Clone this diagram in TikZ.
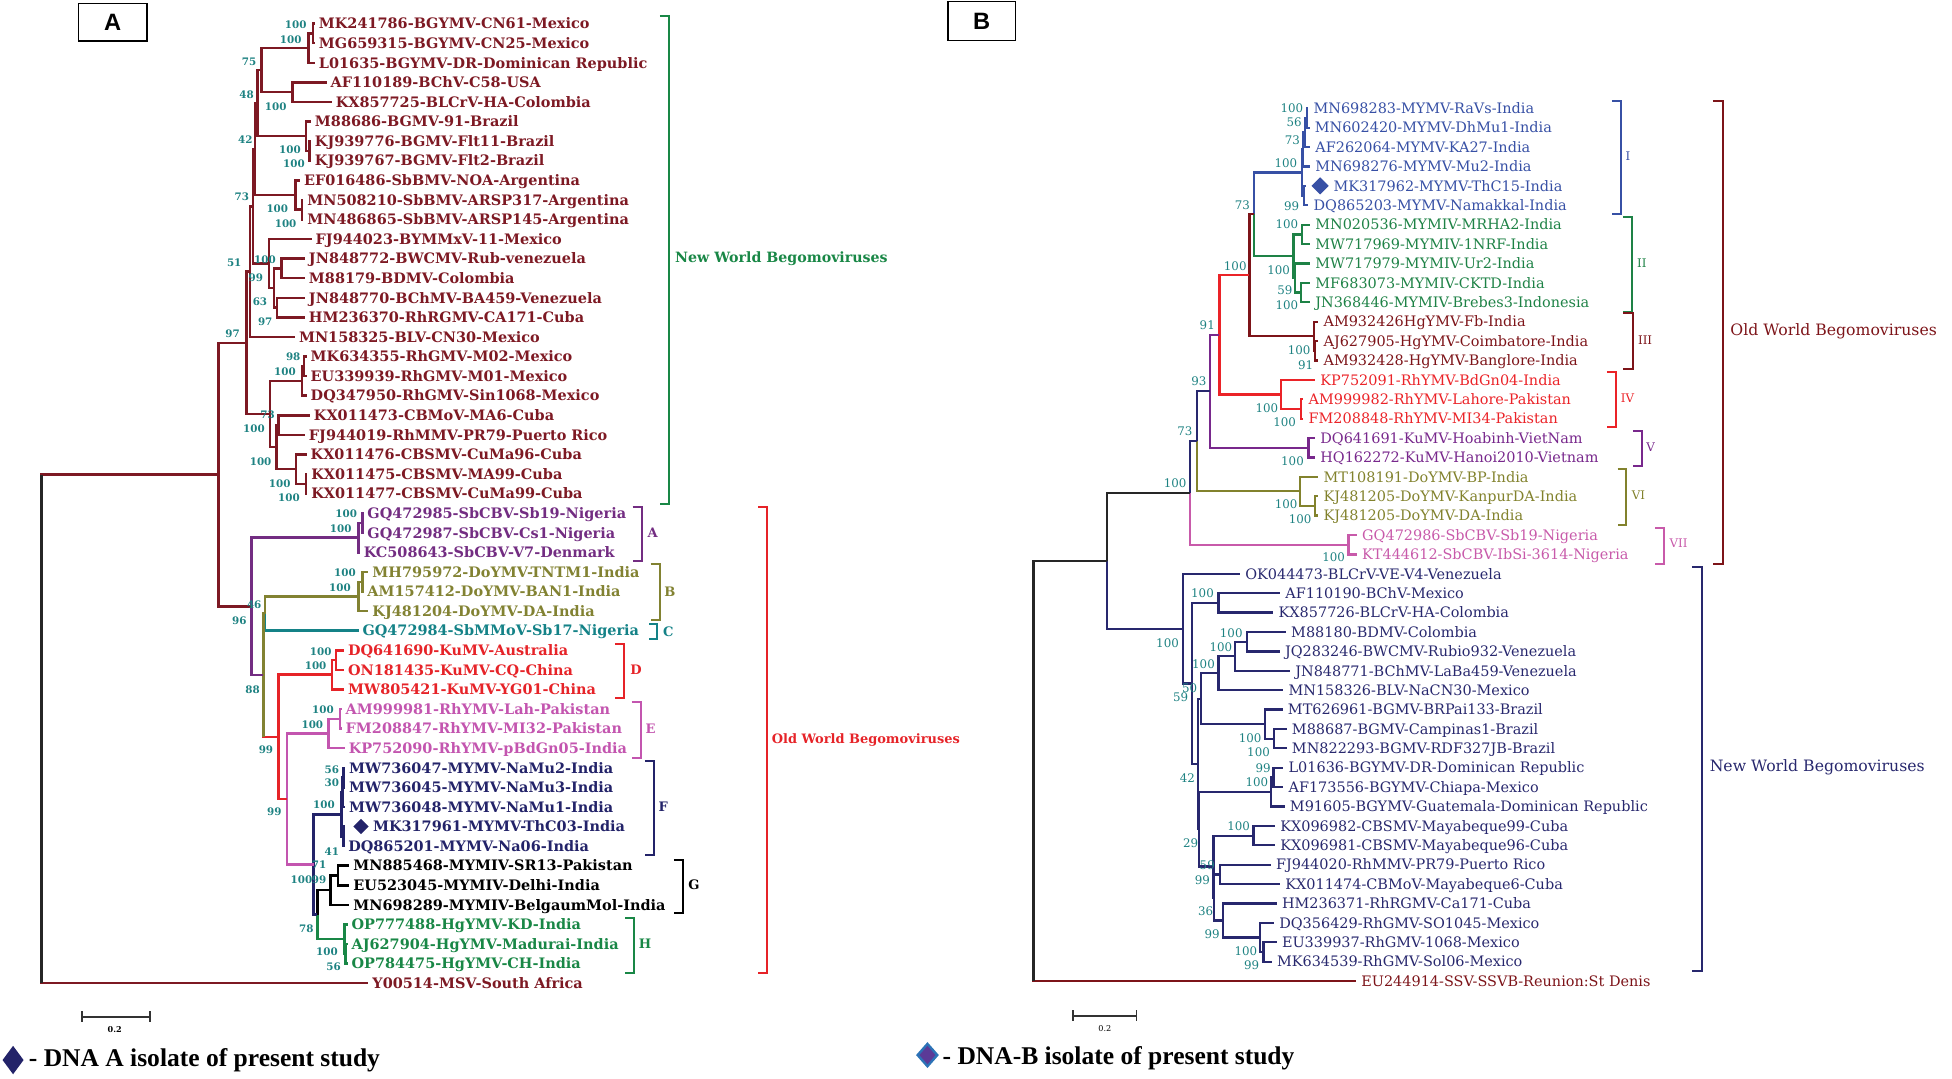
\documentclass[tikz,border=0pt]{standalone}
\usepackage{fontspec}
\newfontfamily\treefont{DejaVu Serif}
\newfontfamily\legfont{Liberation Serif}
\newfontfamily\boxfont{Liberation Sans}
\usetikzlibrary{shapes.geometric}

\definecolor{nwA}{RGB}{125,25,35}
\definecolor{purA}{RGB}{115,45,130}
\definecolor{olvA}{RGB}{130,130,50}
\definecolor{tealA}{RGB}{20,130,135}
\definecolor{redA}{RGB}{230,35,40}
\definecolor{pinkA}{RGB}{195,85,175}
\definecolor{navyA}{RGB}{35,35,105}
\definecolor{grnA}{RGB}{25,135,70}
\definecolor{boot}{RGB}{30,130,130}
\definecolor{blueB}{RGB}{55,80,165}
\definecolor{grnB}{RGB}{30,130,70}
\definecolor{dredB}{RGB}{125,20,25}
\definecolor{redB}{RGB}{235,35,40}
\definecolor{purB}{RGB}{120,40,140}
\definecolor{olvB}{RGB}{130,130,45}
\definecolor{pinkB}{RGB}{200,90,170}
\definecolor{navyB}{RGB}{40,40,110}

\tikzset{
  lfA/.style={anchor=west, inner xsep=3pt, inner ysep=0pt, text height=8.4pt, text depth=0pt, font=\treefont\bfseries\fontsize{11.6}{12}\selectfont},
  lfB/.style={anchor=west, inner xsep=4pt, inner ysep=0pt, text height=8.4pt, text depth=0pt, font=\treefont\fontsize{11.6}{12}\selectfont},
  bsA/.style={anchor=east, inner sep=0pt, text=boot, font=\treefont\bfseries\fontsize{8.3}{9}\selectfont},
  bsB/.style={anchor=east, inner sep=0pt, text=boot, font=\treefont\fontsize{9.5}{10}\selectfont},
  br/.style={line width=2pt, to path={|- (\tikztotarget)}},
  brB/.style={line width=1.8pt, to path={|- (\tikztotarget)}},
  brk/.style={line width=1.6pt},
  grpA/.style={inner sep=0pt, font=\treefont\bfseries\fontsize{10.5}{11}\selectfont},
  grpB/.style={inner sep=0pt, font=\treefont\fontsize{9.5}{10}\selectfont},
  isomark/.style={shape=diamond, inner sep=0pt, aspect=1}
}

\begin{document}
\begin{tikzpicture}[x=1pt, y=-1pt]
\useasboundingbox (0,0) rectangle (1568,866.7);

% panel boxes
\node[draw, line width=1pt, minimum width=55pt, minimum height=30pt, font=\boxfont\bfseries\fontsize{19}{20}\selectfont] (boxA) at (90.5,18) {A};
\node[draw, line width=1pt, minimum width=54pt, minimum height=31pt, font=\boxfont\bfseries\fontsize{19}{20}\selectfont] (boxB) at (788.5,17) {B};

% ---------- panel A : leaves ----------
\node[lfA,text=nwA] (a1) at (253,19) {MK241786-BGYMV-CN61-Mexico};
\node[lfA,text=nwA] (a2) at (253,34.73) {MG659315-BGYMV-CN25-Mexico};
\node[lfA,text=nwA] (a3) at (253,50.46) {L01635-BGYMV-DR-Dominican Republic};
\node[lfA,text=nwA] (a4) at (262.4,66.19) {AF110189-BChV-C58-USA};
\node[lfA,text=nwA] (a5) at (266.5,81.92) {KX857725-BLCrV-HA-Colombia};
\node[lfA,text=nwA] (a6) at (249.8,97.65) {M88686-BGMV-91-Brazil};
\node[lfA,text=nwA] (a7) at (249.8,113.38) {KJ939776-BGMV-Flt11-Brazil};
\node[lfA,text=nwA] (a8) at (249.8,129.11) {KJ939767-BGMV-Flt2-Brazil};
\node[lfA,text=nwA] (a9) at (241,144.84) {EF016486-SbBMV-NOA-Argentina};
\node[lfA,text=nwA] (a10) at (243.7,160.57) {MN508210-SbBMV-ARSP317-Argentina};
\node[lfA,text=nwA] (a11) at (243.7,176.3) {MN486865-SbBMV-ARSP145-Argentina};
\node[lfA,text=nwA] (a12) at (250.4,192.03) {FJ944023-BYMMxV-11-Mexico};
\node[lfA,text=nwA] (a13) at (245,207.76) {JN848772-BWCMV-Rub-venezuela};
\node[lfA,text=nwA] (a14) at (245,223.49) {M88179-BDMV-Colombia};
\node[lfA,text=nwA] (a15) at (245,239.22) {JN848770-BChMV-BA459-Venezuela};
\node[lfA,text=nwA] (a16) at (245,254.95) {HM236370-RhRGMV-CA171-Cuba};
\node[lfA,text=nwA] (a17) at (237,270.68) {MN158325-BLV-CN30-Mexico};
\node[lfA,text=nwA] (a18) at (246.4,286.41) {MK634355-RhGMV-M02-Mexico};
\node[lfA,text=nwA] (a19) at (246.4,302.14) {EU339939-RhGMV-M01-Mexico};
\node[lfA,text=nwA] (a20) at (246.4,317.87) {DQ347950-RhGMV-Sin1068-Mexico};
\node[lfA,text=nwA] (a21) at (249,333.6) {KX011473-CBMoV-MA6-Cuba};
\node[lfA,text=nwA] (a22) at (245,349.33) {FJ944019-RhMMV-PR79-Puerto Rico};
\node[lfA,text=nwA] (a23) at (246.4,365.06) {KX011476-CBSMV-CuMa96-Cuba};
\node[lfA,text=nwA] (a24) at (246.9,380.79) {KX011475-CBSMV-MA99-Cuba};
\node[lfA,text=nwA] (a25) at (246.9,396.52) {KX011477-CBSMV-CuMa99-Cuba};
\node[lfA,text=purA] (a26) at (292,412.25) {GQ472985-SbCBV-Sb19-Nigeria};
\node[lfA,text=purA] (a27) at (292,427.98) {GQ472987-SbCBV-Cs1-Nigeria};
\node[lfA,text=purA] (a28) at (289,443.71) {KC508643-SbCBV-V7-Denmark};
\node[lfA,text=olvA] (a29) at (296,459.44) {MH795972-DoYMV-TNTM1-India};
\node[lfA,text=olvA] (a30) at (292,475.17) {AM157412-DoYMV-BAN1-India};
\node[lfA,text=olvA] (a31) at (296,490.9) {KJ481204-DoYMV-DA-India};
\node[lfA,text=tealA] (a32) at (288,506.63) {GQ472984-SbMMoV-Sb17-Nigeria};
\node[lfA,text=redA] (a33) at (276.4,522.36) {DQ641690-KuMV-Australia};
\node[lfA,text=redA] (a34) at (276.4,538.09) {ON181435-KuMV-CQ-China};
\node[lfA,text=redA] (a35) at (276.4,553.82) {MW805421-KuMV-YG01-China};
\node[lfA,text=pinkA] (a36) at (274.5,569.55) {AM999981-RhYMV-Lah-Pakistan};
\node[lfA,text=pinkA] (a37) at (274.5,585.28) {FM208847-RhYMV-MI32-Pakistan};
\node[lfA,text=pinkA] (a38) at (277,601.01) {KP752090-RhYMV-pBdGn05-India};
\node[lfA,text=navyA] (a39) at (277.2,616.74) {MW736047-MYMV-NaMu2-India};
\node[lfA,text=navyA] (a40) at (277.2,632.47) {MW736045-MYMV-NaMu3-India};
\node[lfA,text=navyA] (a41) at (277.2,648.2) {MW736048-MYMV-NaMu1-India};
\coordinate (t42) at (277.5,663.93);
\node[isomark, fill=navyA, minimum width=12.5pt, minimum height=12.5pt] (dA) at (290,663.93) {};
\node[lfA,text=navyA] (a42) at (296.5,663.93) {MK317961-MYMV-ThC03-India};
\node[lfA,text=navyA] (a43) at (276.6,679.66) {DQ865201-MYMV-Na06-India};
\node[lfA,text=black] (a44) at (280.7,695.39) {MN885468-MYMIV-SR13-Pakistan};
\node[lfA,text=black] (a45) at (280.7,711.12) {EU523045-MYMIV-Delhi-India};
\node[lfA,text=black] (a46) at (280.7,726.85) {MN698289-MYMIV-BelgaumMol-India};
\node[lfA,text=grnA] (a47) at (279.2,742.58) {OP777488-HgYMV-KD-India};
\node[lfA,text=grnA] (a48) at (279.2,758.31) {AJ627904-HgYMV-Madurai-India};
\node[lfA,text=grnA] (a49) at (279.2,774.04) {OP784475-HgYMV-CH-India};
\node[lfA,text=nwA] (a50) at (296,789.77) {Y00514-MSV-South Africa};

% panel A : internal nodes
\coordinate (n12) at (251.5,26.9);
\coordinate (n123) at (247.7,38.7);
\coordinate (n45) at (235,74.05);
\coordinate (n75) at (210.2,56.4);
\coordinate (n78) at (248.5,121.25);
\coordinate (n678) at (245.8,109.45);
\coordinate (n48) at (206.7,82.9);
\coordinate (n1011) at (242.4,168.45);
\coordinate (n911) at (237.5,156.6);
\coordinate (n42) at (204.9,119.75);
\coordinate (n1314) at (226,215.6);
\coordinate (n1516) at (222.5,247.1);
\coordinate (nb) at (220,231.35);
\coordinate (na) at (216,211.7);
\coordinate (n73) at (203.3,165.7);
\coordinate (n51) at (200.8,218.2);
\coordinate (n1819) at (244.2,294.3);
\coordinate (n1820) at (242.4,306.1);
\coordinate (n2122) at (223.6,341.5);
\coordinate (n2425) at (245.6,388.65);
\coordinate (n2325) at (237.8,376.85);
\coordinate (n2125) at (222.3,359.2);
\coordinate (n1825) at (216.9,332.65);
\coordinate (nNW) at (198.2,275.4);
\coordinate (n2627) at (291.1,420.1);
\coordinate (n2628) at (287.9,431.9);
\coordinate (n2930) at (291.1,467.3);
\coordinate (n2931) at (287.9,479.1);
\coordinate (nBC) at (212.9,492.9);
\coordinate (n3334) at (269.9,530.2);
\coordinate (nD) at (266.5,542);
\coordinate (n3637) at (273.2,577.4);
\coordinate (nE) at (263.8,589.2);
\coordinate (n3940) at (276,624.6);
\coordinate (n3941) at (275.3,636.4);
\coordinate (n4243) at (276,671.8);
\coordinate (nF) at (274.5,654.1);
\coordinate (nG12) at (271.5,703.25);
\coordinate (nG) at (265.4,715.05);
\coordinate (n4849) at (277.5,766.2);
\coordinate (nH) at (276.6,754.4);
\coordinate (nGH) at (255,734.7);
\coordinate (nFGH) at (252,694.4);
\coordinate (nEH) at (230.4,641.8);
\coordinate (nDH) at (223.6,591.9);
\coordinate (n88) at (211.5,542.4);
\coordinate (nOW) at (202.2,487.15);
\coordinate (ntop) at (175.4,381.3);
\coordinate (nrootA) at (33.3,585.5);

% panel A : branches
\path[br, draw=nwA] (n12) edge (a1) edge (a2);
\path[br, draw=nwA] (n123) edge (n12) edge (a3);
\path[br, draw=nwA] (n45) edge (a4) edge (a5);
\path[br, draw=nwA] (n75) edge (n123) edge (n45);
\path[br, draw=nwA] (n78) edge (a7) edge (a8);
\path[br, draw=nwA] (n678) edge (a6) edge (n78);
\path[br, draw=nwA] (n48) edge (n75) edge (n678);
\path[br, draw=nwA] (n1011) edge (a10) edge (a11);
\path[br, draw=nwA] (n911) edge (a9) edge (n1011);
\path[br, draw=nwA] (n42) edge (n48) edge (n911);
\path[br, draw=nwA] (n1314) edge (a13) edge (a14);
\path[br, draw=nwA] (n1516) edge (a15) edge (a16);
\path[br, draw=nwA] (nb) edge (n1314) edge (n1516);
\path[br, draw=nwA] (na) edge (a12) edge (nb);
\path[br, draw=nwA] (n73) edge (n42) edge (na);
\path[br, draw=nwA] (n51) edge (n73) edge (a17);
\path[br, draw=nwA] (n1819) edge (a18) edge (a19);
\path[br, draw=nwA] (n1820) edge (n1819) edge (a20);
\path[br, draw=nwA] (n2122) edge (a21) edge (a22);
\path[br, draw=nwA] (n2425) edge (a24) edge (a25);
\path[br, draw=nwA] (n2325) edge (a23) edge (n2425);
\path[br, draw=nwA] (n2125) edge (n2122) edge (n2325);
\path[br, draw=nwA] (n1825) edge (n1820) edge (n2125);
\path[br, draw=nwA] (nNW) edge (n51) edge (n1825);
\path[br, draw=purA] (n2627) edge (a26) edge (a27);
\path[br, draw=purA] (n2628) edge (n2627) edge (a28);
\path[br, draw=olvA] (n2930) edge (a29) edge (a30);
\path[br, draw=olvA] (n2931) edge (n2930) edge (a31);
\path[br, draw=olvA] (nBC) edge (n2931);
\path[br, draw=tealA] (nBC) edge (a32);
\path[br, draw=redA] (n3334) edge (a33) edge (a34);
\path[br, draw=redA] (nD) edge (n3334) edge (a35);
\path[br, draw=pinkA] (n3637) edge (a36) edge (a37);
\path[br, draw=pinkA] (nE) edge (n3637) edge (a38);
\path[br, draw=navyA] (n3940) edge (a39) edge (a40);
\path[br, draw=navyA] (n3941) edge (n3940) edge (a41);
\path[br, draw=navyA] (n4243) edge (t42) edge (a43);
\path[br, draw=navyA] (nF) edge (n3941) edge (n4243);
\path[br, draw=black] (nG12) edge (a44) edge (a45);
\path[br, draw=black] (nG) edge (nG12) edge (a46);
\path[br, draw=grnA] (n4849) edge (a48) edge (a49);
\path[br, draw=grnA] (nH) edge (a47) edge (n4849);
\path[br, draw=black] (nGH) edge (nG);
\path[br, draw=grnA] (nGH) edge (nH);
\path[br, draw=navyA] (nFGH) edge (nF) edge (nGH);
\path[br, draw=pinkA] (nEH) edge (nE) edge (nFGH);
\path[br, draw=redA] (nDH) edge (nD) edge (nEH);
\path[br, draw=olvA] (n88) edge (nBC);
\path[br, draw=redA] (n88) edge (nDH);
\draw[line width=2pt, olvA] (n88) -- (n88 |- nDH);
\path[br, draw=purA] (nOW) edge (n2628) edge (n88);
\path[br, draw=nwA] (ntop) edge (nNW) edge (nOW);
\path[br, draw=nwA] (nrootA) edge (ntop) edge (a50);
\draw[line width=2pt, black!85] (nrootA |- ntop) -- (nrootA |- a50);

% panel A : bootstrap values
\node[bsA] (bA1) at (246.4,20) {100};
\node[bsA] (bA2) at (242.4,31.6) {100};
\node[bsA] (bA3) at (206,49.5) {75};
\node[bsA] (bA4) at (204,76.3) {48};
\node[bsA] (bA5) at (230.3,85.7) {100};
\node[bsA] (bA6) at (203,112.5) {42};
\node[bsA] (bA7) at (241.8,120.5) {100};
\node[bsA] (bA8) at (245,131.8) {100};
\node[bsA] (bA9) at (200.3,158) {73};
\node[bsA] (bA10) at (231.6,167.4) {100};
\node[bsA] (bA11) at (238.3,179.4) {100};
\node[bsA] (bA12) at (221.7,208.4) {100};
\node[bsA] (bA13) at (194.1,211) {51};
\node[bsA] (bA14) at (211.5,222.8) {99};
\node[bsA] (bA15) at (214.8,242.4) {63};
\node[bsA] (bA16) at (219,258.5) {97};
\node[bsA] (bA17) at (192.8,267.8) {97};
\node[bsA] (bA18) at (241.5,286.6) {98};
\node[bsA] (bA19) at (237.8,298.6) {100};
\node[bsA] (bA20) at (220.9,333.4) {73};
\node[bsA] (bA21) at (212.9,344.1) {100};
\node[bsA] (bA22) at (218.2,370.8) {100};
\node[bsA] (bA23) at (233.5,388.3) {100};
\node[bsA] (bA24) at (241,399.8) {100};
\node[bsA] (bA25) at (287,412.4) {100};
\node[bsA] (bA26) at (282.5,424.4) {100};
\node[bsA] (bA27) at (286,460) {100};
\node[bsA] (bA28) at (282,471.8) {100};
\node[bsA] (bA29) at (210.2,486) {46};
\node[bsA] (bA30) at (198.2,498.6) {96};
\node[bsA] (bA31) at (266.5,523.5) {100};
\node[bsA] (bA32) at (262.4,535) {100};
\node[bsA] (bA33) at (208.9,554.3) {88};
\node[bsA] (bA34) at (268.3,569.8) {100};
\node[bsA] (bA35) at (259.8,581.9) {100};
\node[bsA] (bA36) at (219.6,602.5) {99};
\node[bsA] (bA37) at (272.6,618) {56};
\node[bsA] (bA38) at (272.6,628.8) {30};
\node[bsA] (bA39) at (269.1,646.7) {100};
\node[bsA] (bA40) at (226.3,652) {99};
\node[bsA] (bA41) at (272.5,684.1) {41};
\node[bsA] (bA42) at (262.3,694.9) {71};
\node[bsA] (bA43) at (251,707) {100};
\node[bsA] (bA44) at (262.3,707) {99};
\node[bsA] (bA45) at (252,745.7) {78};
\node[bsA] (bA46) at (271.5,764.5) {100};
\node[bsA] (bA47) at (274,776.5) {56};

% panel A : clade brackets
\draw[brk, grnA] (530.1,12.8) -- (537.6,12.8) -- (537.6,404.7) -- (530.1,404.7);
\node[grpA, anchor=west, text=grnA, font=\treefont\bfseries\fontsize{11.4}{12}\selectfont] (lNWA) at (542.2,207.5) {New World Begomoviruses};
\draw[brk, redA] (609.1,407.3) -- (615.9,407.3) -- (615.9,781.3) -- (609.1,781.3);
\node[grpA, anchor=west, text=redA, font=\treefont\bfseries\fontsize{10.4}{11}\selectfont] (lOWA) at (619.9,594.3) {Old World Begomoviruses};
\draw[brk, purA] (508.2,407.3) -- (515.4,407.3) -- (515.4,450.8) -- (508.2,450.8);
\node[grpA, text=purA] (gA) at (524.3,427.8) {A};
\draw[brk, olvA] (522.6,453.4) -- (530.1,453.4) -- (530.1,498) -- (522.6,498);
\node[grpA, text=olvA] (gB) at (538.2,475.4) {B};
\draw[brk, tealA] (521.6,501) -- (527.5,501) -- (527.5,513.3) -- (521.6,513.3);
\node[grpA, text=tealA] (gC) at (536.8,507.2) {C};
\draw[brk, redA] (494,517.4) -- (501.5,517.4) -- (501.5,561) -- (494,561);
\node[grpA, text=redA] (gD) at (510.9,537.9) {D};
\draw[brk, pinkA] (507.4,563.5) -- (514.9,563.5) -- (514.9,608.6) -- (507.4,608.6);
\node[grpA, text=pinkA] (gE) at (522.6,585) {E};
\draw[brk, navyA] (518.1,611.2) -- (525.3,611.2) -- (525.3,686.5) -- (518.1,686.5);
\node[grpA, text=navyA] (gF) at (532.8,648) {F};
\draw[brk, black] (541.4,690.6) -- (548.3,690.6) -- (548.3,733.6) -- (541.4,733.6);
\node[grpA, text=black] (gG) at (557.5,711) {G};
\draw[brk, grnA] (502.3,737.7) -- (509.3,737.7) -- (509.3,781.3) -- (502.3,781.3);
\node[grpA, text=grnA] (gH) at (518.1,758.2) {H};

% panel A : scale bar
\draw[line width=1.8pt, black!80] (65.6,816.7) -- (120.4,816.7);
\draw[line width=1.4pt, black!80] (65.6,812.2) -- (65.6,821.2) (120.4,812.2) -- (120.4,821.2);
\node[inner sep=0pt, font=\treefont\bfseries\fontsize{6.5}{7}\selectfont] (sclA) at (92.2,827) {0.2};

% ---------- panel B : leaves ----------
\node[lfB,text=blueB] (b1) at (1051,87) {MN698283-MYMV-RaVs-India};
\node[lfB,text=blueB] (b2) at (1052,102.58) {MN602420-MYMV-DhMu1-India};
\node[lfB,text=blueB] (b3) at (1052.4,118.16) {AF262064-MYMV-KA27-India};
\node[lfB,text=blueB] (b4) at (1052.4,133.74) {MN698276-MYMV-Mu2-India};
\coordinate (t5) at (1049,149.32);
\node[isomark, fill=blueB, minimum width=14pt, minimum height=14pt] (dB) at (1060.4,149.32) {};
\node[lfB,text=blueB] (b5) at (1067,149.32) {MK317962-MYMV-ThC15-India};
\node[lfB,text=blueB] (b6) at (1051,164.9) {DQ865203-MYMV-Namakkal-India};
\node[lfB,text=grnB] (b7) at (1052.4,180.48) {MN020536-MYMIV-MRHA2-India};
\node[lfB,text=grnB] (b8) at (1052.4,196.06) {MW717969-MYMIV-1NRF-India};
\node[lfB,text=grnB] (b9) at (1052.4,211.64) {MW717979-MYMIV-Ur2-India};
\node[lfB,text=grnB] (b10) at (1052.4,227.22) {MF683073-MYMIV-CKTD-India};
\node[lfB,text=grnB] (b11) at (1052.4,242.8) {JN368446-MYMIV-Brebes3-Indonesia};
\node[lfB,text=dredB] (b12) at (1059,258.38) {AM932426HgYMV-Fb-India};
\node[lfB,text=dredB] (b13) at (1059,273.96) {AJ627905-HgYMV-Coimbatore-India};
\node[lfB,text=dredB] (b14) at (1059,289.54) {AM932428-HgYMV-Banglore-India};
\node[lfB,text=redB] (b15) at (1056.4,305.12) {KP752091-RhYMV-BdGn04-India};
\node[lfB,text=redB] (b16) at (1047,320.7) {AM999982-RhYMV-Lahore-Pakistan};
\node[lfB,text=redB] (b17) at (1047,336.28) {FM208848-RhYMV-MI34-Pakistan};
\node[lfB,text=purB] (b18) at (1056.4,351.86) {DQ641691-KuMV-Hoabinh-VietNam};
\node[lfB,text=purB] (b19) at (1056.4,367.44) {HQ162272-KuMV-Hanoi2010-Vietnam};
\node[lfB,text=olvB] (b20) at (1059,383.02) {MT108191-DoYMV-BP-India};
\node[lfB,text=olvB] (b21) at (1059,398.6) {KJ481205-DoYMV-KanpurDA-India};
\node[lfB,text=olvB] (b22) at (1059,414.18) {KJ481205-DoYMV-DA-India};
\node[lfB,text=pinkB] (b23) at (1090,429.76) {GQ472986-SbCBV-Sb19-Nigeria};
\node[lfB,text=pinkB] (b24) at (1090,445.34) {KT444612-SbCBV-IbSi-3614-Nigeria};
\node[lfB,text=navyB] (b25) at (996.1,460.92) {OK044473-BLCrV-VE-V4-Venezuela};
\node[lfB,text=navyB] (b26) at (1028.3,476.5) {AF110190-BChV-Mexico};
\node[lfB,text=navyB] (b27) at (1022.9,492.08) {KX857726-BLCrV-HA-Colombia};
\node[lfB,text=navyB] (b28) at (1033,507.66) {M88180-BDMV-Colombia};
\node[lfB,text=navyB] (b29) at (1028,523.24) {JQ283246-BWCMV-Rubio932-Venezuela};
\node[lfB,text=navyB] (b30) at (1036.3,538.82) {JN848771-BChMV-LaBa459-Venezuela};
\node[lfB,text=navyB] (b31) at (1030.9,554.4) {MN158326-BLV-NaCN30-Mexico};
\node[lfB,text=navyB] (b32) at (1030.4,569.98) {MT626961-BGMV-BRPai133-Brazil};
\node[lfB,text=navyB] (b33) at (1033.6,585.56) {M88687-BGMV-Campinas1-Brazil};
\node[lfB,text=navyB] (b34) at (1033.6,601.14) {MN822293-BGMV-RDF327JB-Brazil};
\node[lfB,text=navyB] (b35) at (1030.9,616.72) {L01636-BGYMV-DR-Dominican Republic};
\node[lfB,text=navyB] (b36) at (1030.9,632.3) {AF173556-BGYMV-Chiapa-Mexico};
\node[lfB,text=navyB] (b37) at (1032,647.88) {M91605-BGYMV-Guatemala-Dominican Republic};
\node[lfB,text=navyB] (b38) at (1024.2,663.46) {KX096982-CBSMV-Mayabeque99-Cuba};
\node[lfB,text=navyB] (b39) at (1024.2,679.04) {KX096981-CBSMV-Mayabeque96-Cuba};
\node[lfB,text=navyB] (b40) at (1020.8,694.62) {FJ944020-RhMMV-PR79-Puerto Rico};
\node[lfB,text=navyB] (b41) at (1028.3,710.2) {KX011474-CBMoV-Mayabeque6-Cuba};
\node[lfB,text=navyB] (b42) at (1025.6,725.78) {HM236371-RhRGMV-Ca171-Cuba};
\node[lfB,text=navyB] (b43) at (1023.4,741.36) {DQ356429-RhGMV-SO1045-Mexico};
\node[lfB,text=navyB] (b44) at (1025.6,756.94) {EU339937-RhGMV-1068-Mexico};
\node[lfB,text=navyB] (b45) at (1021.6,772.52) {MK634539-RhGMV-Sol06-Mexico};
\node[lfB,text=dredB] (b46) at (1089.3,788.1) {EU244914-SSV-SSVB-Reunion:St Denis};

% panel B : internal nodes
\coordinate (m12) at (1049.7,94.8);
\coordinate (m123) at (1048,106.5);
\coordinate (m1234) at (1046.5,120.1);
\coordinate (m56) at (1047.5,157.1);
\coordinate (mI) at (1045.7,138.6);
\coordinate (m78) at (1045.7,188.3);
\coordinate (m1011) at (1045.1,235);
\coordinate (m911) at (1040.3,223.3);
\coordinate (mII) at (1039,205.8);
\coordinate (mI2) at (1007.4,172.2);
\coordinate (m1314) at (1056.4,281.75);
\coordinate (mIII) at (1055.6,270.1);
\coordinate (mI3) at (1003.6,221.15);
\coordinate (m1617) at (1044.9,328.5);
\coordinate (mIV) at (1029,316.8);
\coordinate (mI4) at (979.5,268.98);
\coordinate (m1819) at (1051,359.65);
\coordinate (mI5) at (972,314.3);
\coordinate (m2122) at (1056.4,406.4);
\coordinate (mVI) at (1044.3,394.7);
\coordinate (mI6) at (961.3,354.5);
\coordinate (m2324) at (1083.2,437.55);
\coordinate (mOW) at (955.9,396);
\coordinate (m2627) at (978.7,484.3);
\coordinate (m2829) at (1001.5,515.45);
\coordinate (m2830) at (992.1,527.1);
\coordinate (m2831) at (978.7,540.8);
\coordinate (m3334) at (1023.4,593.35);
\coordinate (mBGMV) at (1016.2,581.7);
\coordinate (ma) at (964.6,561.2);
\coordinate (m3536) at (1022.9,624.5);
\coordinate (mBGYMV) at (1020.8,636.2);
\coordinate (m3839) at (1006.8,671.25);
\coordinate (m4041) at (980,702.4);
\coordinate (m4445) at (1014.9,764.7);
\coordinate (m4345) at (1012.2,753);
\coordinate (m4245) at (982.2,739.4);
\coordinate (mZ) at (975.2,720.9);
\coordinate (mY) at (974.7,696.1);
\coordinate (mb) at (963.4,666.15);
\coordinate (mc) at (962.5,613.7);
\coordinate (mx) at (957.3,549);
\coordinate (mNW) at (950,505);
\coordinate (mIN) at (889.5,450.5);
\coordinate (mroot) at (830.1,619.3);

% panel B : branches
\path[brB, draw=blueB] (m12) edge (b1) edge (b2);
\path[brB, draw=blueB] (m123) edge (m12) edge (b3);
\path[brB, draw=blueB] (m1234) edge (m123) edge (b4);
\path[brB, draw=blueB] (m56) edge (t5) edge (b6);
\path[brB, draw=blueB] (mI) edge (m1234) edge (m56);
\path[brB, draw=grnB] (m78) edge (b7) edge (b8);
\path[brB, draw=grnB] (m1011) edge (b10) edge (b11);
\path[brB, draw=grnB] (m911) edge (b9) edge (m1011);
\path[brB, draw=grnB] (mII) edge (m78) edge (m911);
\path[brB, draw=blueB] (mI2) edge (mI);
\path[brB, draw=grnB] (mI2) edge (mII);
\path[brB, draw=dredB] (m1314) edge (b13) edge (b14);
\path[brB, draw=dredB] (mIII) edge (b12) edge (m1314);
\path[brB, draw=dredB] (mI3) edge (mI2) edge (mIII);
\path[brB, draw=redB] (m1617) edge (b16) edge (b17);
\path[brB, draw=redB] (mIV) edge (b15) edge (m1617);
\path[brB, draw=redB] (mI4) edge (mI3) edge (mIV);
\path[brB, draw=purB] (m1819) edge (b18) edge (b19);
\path[brB, draw=purB] (mI5) edge (mI4) edge (m1819);
\path[brB, draw=olvB] (m2122) edge (b21) edge (b22);
\path[brB, draw=olvB] (mVI) edge (b20) edge (m2122);
\path[brB, draw=navyB] (mI6) edge (mI5);
\path[brB, draw=olvB] (mI6) edge (mVI);
\path[brB, draw=pinkB] (m2324) edge (b23) edge (b24);
\path[brB, draw=navyB] (mOW) edge (mI6);
\path[brB, draw=pinkB] (mOW) edge (m2324);
\path[brB, draw=navyB] (m2627) edge (b26) edge (b27);
\path[brB, draw=navyB] (m2829) edge (b28) edge (b29);
\path[brB, draw=navyB] (m2830) edge (m2829) edge (b30);
\path[brB, draw=navyB] (m2831) edge (m2830) edge (b31);
\path[brB, draw=navyB] (m3334) edge (b33) edge (b34);
\path[brB, draw=navyB] (mBGMV) edge (b32) edge (m3334);
\path[brB, draw=navyB] (ma) edge (m2831) edge (mBGMV);
\path[brB, draw=navyB] (m3536) edge (b35) edge (b36);
\path[brB, draw=navyB] (mBGYMV) edge (m3536) edge (b37);
\path[brB, draw=navyB] (m3839) edge (b38) edge (b39);
\path[brB, draw=navyB] (m4041) edge (b40) edge (b41);
\path[brB, draw=navyB] (m4445) edge (b44) edge (b45);
\path[brB, draw=navyB] (m4345) edge (b43) edge (m4445);
\path[brB, draw=navyB] (m4245) edge (b42) edge (m4345);
\path[brB, draw=navyB] (mZ) edge (m4041) edge (m4245);
\path[brB, draw=navyB] (mY) edge (m3839) edge (mZ);
\path[brB, draw=navyB] (mb) edge (mBGYMV) edge (mY);
\path[brB, draw=navyB] (mc) edge (ma) edge (mb);
\path[brB, draw=navyB] (mx) edge (m2627) edge (mc);
\path[brB, draw=navyB] (mNW) edge (b25) edge (mx);
\path[brB, draw=black!85] (mIN) edge (mOW);
\path[brB, draw=navyB] (mIN) edge (mNW);
\path[brB, draw=black!85] (mroot) edge (mIN);
\path[brB, draw=dredB] (mroot) edge (b46);
\draw[line width=1.8pt, black!85] (mroot |- mIN) -- (mroot |- b46);

% panel B : bootstrap values
\node[bsB] (bB1) at (1047,87) {100};
\node[bsB] (bB2) at (1045.7,98.5) {56};
\node[bsB] (bB3) at (1044.3,112.5) {73};
\node[bsB] (bB4) at (1042.2,130.7) {100};
\node[bsB] (bB5) at (1043.8,166) {99};
\node[bsB] (bB6) at (1004.2,164.7) {73};
\node[bsB] (bB7) at (1043,180) {100};
\node[bsB] (bB8) at (1001.5,213.7) {100};
\node[bsB] (bB9) at (1036.3,216.9) {100};
\node[bsB] (bB10) at (1038.4,233.5) {59};
\node[bsB] (bB11) at (1043,245) {100};
\node[bsB] (bB12) at (976,261) {91};
\node[bsB] (bB13) at (1052.9,281.1) {100};
\node[bsB] (bB14) at (1055,293.2) {91};
\node[bsB] (bB15) at (969.3,306.6) {93};
\node[bsB] (bB16) at (1026.9,327.5) {100};
\node[bsB] (bB17) at (1041.1,339.5) {100};
\node[bsB] (bB18) at (958.1,346.7) {73};
\node[bsB] (bB19) at (1047.5,370.8) {100};
\node[bsB] (bB20) at (953.3,388.3) {100};
\node[bsB] (bB21) at (1042.4,404.9) {100};
\node[bsB] (bB22) at (1053.7,416.9) {100};
\node[bsB] (bB23) at (1080.5,447.7) {100};
\node[bsB] (bB24) at (975.2,476.6) {100};
\node[bsB] (bB25) at (998.3,508.3) {100};
\node[bsB] (bB26) at (947.1,516.3) {100};
\node[bsB] (bB27) at (990,519.5) {100};
\node[bsB] (bB28) at (976,533.4) {100};
\node[bsB] (bB29) at (961.8,553) {50};
\node[bsB] (bB30) at (954.6,559.7) {59};
\node[bsB] (bB31) at (1013.5,593.1) {100};
\node[bsB] (bB32) at (1020.2,603.9) {100};
\node[bsB] (bB33) at (1020.8,617.2) {99};
\node[bsB] (bB34) at (960,625.2) {42};
\node[bsB] (bB35) at (1018.9,628.7) {100};
\node[bsB] (bB36) at (1004.2,664) {100};
\node[bsB] (bB37) at (962.6,677.4) {29};
\node[bsB] (bB38) at (976,694.8) {59};
\node[bsB] (bB39) at (972,706.9) {99};
\node[bsB] (bB40) at (974.7,732.3) {36};
\node[bsB] (bB41) at (980,750.3) {99};
\node[bsB] (bB42) at (1010,763.7) {100};
\node[bsB] (bB43) at (1011.7,775.2) {99};

% panel B : clade brackets
\draw[brk, blueB] (1294.7,80.8) -- (1301.9,80.8) -- (1301.9,171.7) -- (1294.7,171.7);
\node[grpB, text=blueB] (gI) at (1307.6,125.5) {I};
\draw[brk, grnB] (1303.6,174.1) -- (1310.8,174.1) -- (1310.8,250.4) -- (1303.6,250.4);
\node[grpB, text=grnB] (gII) at (1318.8,211.3) {II};
\draw[brk, dredB] (1304.1,251.8) -- (1311.6,251.8) -- (1311.6,296.6) -- (1304.1,296.6);
\node[grpB, text=dredB] (gIII) at (1321.5,273) {III};
\draw[brk, redB] (1290.7,299) -- (1297.9,299) -- (1297.9,343.3) -- (1290.7,343.3);
\node[grpB, text=redB] (gIV) at (1307.3,320.2) {IV};
\draw[brk, purB] (1311.6,346.1) -- (1318.8,346.1) -- (1318.8,374.4) -- (1311.6,374.4);
\node[grpB, text=purB] (gV) at (1326,359.3) {V};
\draw[brk, olvB] (1299.3,376.7) -- (1306.2,376.7) -- (1306.2,421.5) -- (1299.3,421.5);
\node[grpB, text=olvB] (gVI) at (1316.1,398) {VI};
\draw[brk, pinkB] (1329.5,423.9) -- (1336.8,423.9) -- (1336.8,453.1) -- (1329.5,453.1);
\node[grpB, text=pinkB] (gVII) at (1348.3,436.6) {VII};
\draw[brk, dredB] (1375.9,80.8) -- (1383.9,80.8) -- (1383.9,453.1) -- (1375.9,453.1);
\node[inner sep=0pt, anchor=west, text=dredB, font=\treefont\fontsize{12.6}{13}\selectfont] (lOWB) at (1389.8,266) {Old World Begomoviruses};
\draw[brk, navyB] (1359,455.4) -- (1367,455.4) -- (1367,779.7) -- (1359,779.7);
\node[inner sep=0pt, anchor=west, text=navyB, font=\treefont\fontsize{12.6}{13}\selectfont] (lNWB) at (1373.2,616.6) {New World Begomoviruses};

% panel B : scale bar
\draw[line width=1.8pt, black!80] (862,816) -- (913,816);
\draw[line width=1.4pt, black!80] (862,811.5) -- (862,820.5) (913,811.5) -- (913,820.5);
\node[inner sep=0pt, font=\treefont\fontsize{6.5}{7}\selectfont] (sclB) at (887.5,826) {0.2};

% legends
\node[isomark, fill=navyA, minimum width=17pt, minimum height=23pt] (keyA) at (10.5,851.5) {};
\node[anchor=west, inner sep=0pt, font=\legfont\bfseries\fontsize{20.5}{21}\selectfont] (txtA) at (23,851.5) {- DNA A isolate of present study};
\node[isomark, fill=blueB!80!cyan, minimum width=18.5pt, minimum height=21pt] (keyB) at (745,847.5) {};
\node[isomark, fill=purB!55!blueB, minimum width=13pt, minimum height=15pt] (keyBi) at (745,847.5) {};
\node[anchor=west, inner sep=0pt, font=\legfont\bfseries\fontsize{20.5}{21}\selectfont] (txtB) at (757,850) {- DNA-B isolate of present study};
\end{tikzpicture}
\end{document}
